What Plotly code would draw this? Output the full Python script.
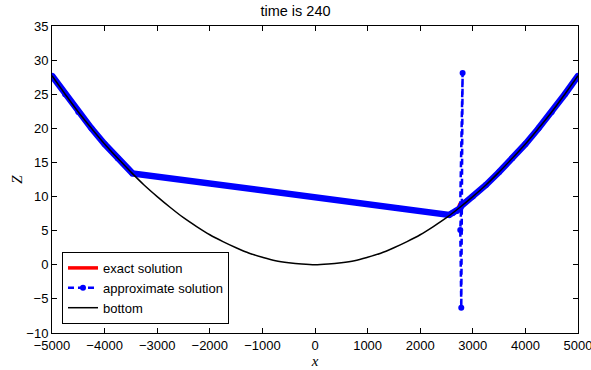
import plotly.graph_objects as go

# Bed profile z_b(x), read at 250 m spacing
bottom_x = [-5000, -4750, -4500, -4250, -4000, -3750, -3500, -3250, -3000, -2750,
            -2500, -2250, -2000, -1750, -1500, -1250, -1000, -750, -500, -250,
            0, 250, 500, 750, 1000, 1250, 1500, 1750, 2000, 2250,
            2500, 2750, 3000, 3250, 3500, 3750, 4000, 4250, 4500, 4750, 5000]
bottom_z = [27.7, 25.0, 22.4, 20.0, 17.7, 15.6, 13.6, 11.7, 10.0, 8.4,
            6.9, 5.6, 4.4, 3.4, 2.5, 1.7, 1.1, 0.6, 0.3, 0.1,
            0.0, 0.1, 0.3, 0.6, 1.1, 1.7, 2.5, 3.4, 4.4, 5.6,
            6.9, 8.4, 10.0, 11.7, 13.6, 15.6, 17.7, 20.0, 22.4, 25.0, 27.7]

# Exact free surface
exact_x = [-5000, -4750, -4500, -4250, -4000, -3750, -3470, 2550, 2620, 2700, 2755,
           3000, 3250, 3500, 3750, 4000, 4250, 4500, 4750, 5000]
exact_z = [27.7, 25.0, 22.4, 20.0, 17.7, 15.6, 13.4, 7.3, 7.6, 7.9, 8.9,
           10.0, 11.7, 13.6, 15.6, 17.7, 20.0, 22.4, 25.0, 27.7]

# Approximate free surface (includes the oscillation at the wet/dry front)
approx_x = [-5000, -4750, -4500, -4250, -4000, -3750, -3470, 2550, 2620, 2700, 2760,
            2806, 2781, 2762, 2780,
            3000, 3250, 3500, 3750, 4000, 4250, 4500, 4750, 5000]
approx_z = [27.7, 25.0, 22.4, 20.0, 17.7, 15.6, 13.4, 7.3, 7.6, 7.9, 8.3,
            28.1, -6.3, 5.1, 8.6,
            10.0, 11.7, 13.6, 15.6, 17.7, 20.0, 22.4, 25.0, 27.7]
spike_idx = [11, 12, 13]  # isolated nodes of the front oscillation

x_ticks = [-5000, -4000, -3000, -2000, -1000, 0, 1000, 2000, 3000, 4000, 5000]
y_ticks = [-10, -5, 0, 5, 10, 15, 20, 25, 30, 35]

BLUE = "#0000ff"
FONT = "Liberation Sans, Arial, sans-serif"

# Densely sampled cells render as a continuous thick band
band_x = [v for i, v in enumerate(approx_x) if i not in spike_idx]
band_z = [v for i, v in enumerate(approx_z) if i not in spike_idx]

fig = go.Figure()
fig.add_trace(go.Scatter(x=exact_x, y=exact_z, mode="lines", name="exact solution",
                         line=dict(color="#ff0000", width=3.5)))
fig.add_trace(go.Scatter(x=band_x, y=band_z, mode="lines", showlegend=False,
                         line=dict(color=BLUE, width=6.5)))
fig.add_trace(go.Scatter(x=approx_x, y=approx_z, mode="lines+markers",
                         name="approximate solution",
                         line=dict(color=BLUE, width=2.5, dash="6px,4px"),
                         marker=dict(color=BLUE, size=6)))
fig.add_trace(go.Scatter(x=bottom_x, y=bottom_z, mode="lines", name="bottom",
                         line=dict(color="black", width=1.5, shape="spline")))

axis_common = dict(showgrid=False, zeroline=False, showline=True, linecolor="black",
                   linewidth=1, mirror="ticks", ticks="inside", ticklen=5,
                   tickcolor="black", ticklabeloverflow="allow",
                   tickfont=dict(family=FONT, size=13, color="black"))

fig.update_xaxes(range=[-5000, 5000], tickvals=x_ticks,
                 title=dict(text="<i>x</i>", standoff=0,
                            font=dict(family="Liberation Serif, serif", size=15, color="black")),
                 **axis_common)
fig.update_yaxes(range=[-10, 35], tickvals=y_ticks,
                 title=dict(text="<i>Z</i>", standoff=0,
                            font=dict(family="Liberation Serif, serif", size=15, color="black")),
                 **axis_common)

fig.update_layout(
    width=591, height=370,
    margin=dict(l=52, r=13, t=26, b=37, autoexpand=False),
    plot_bgcolor="white", paper_bgcolor="white",
    title=dict(text="time is 240", x=0.5, xanchor="center", y=0.985, yanchor="top",
               font=dict(family=FONT, size=14.5, color="black")),
    legend=dict(x=0.019, y=0.264, xanchor="left", yanchor="top",
                bgcolor="white", bordercolor="black", borderwidth=1,
                font=dict(family=FONT, size=13, color="black"),
                itemwidth=30, tracegroupgap=0),
    showlegend=True,
)

fig.write_html("out.html")
